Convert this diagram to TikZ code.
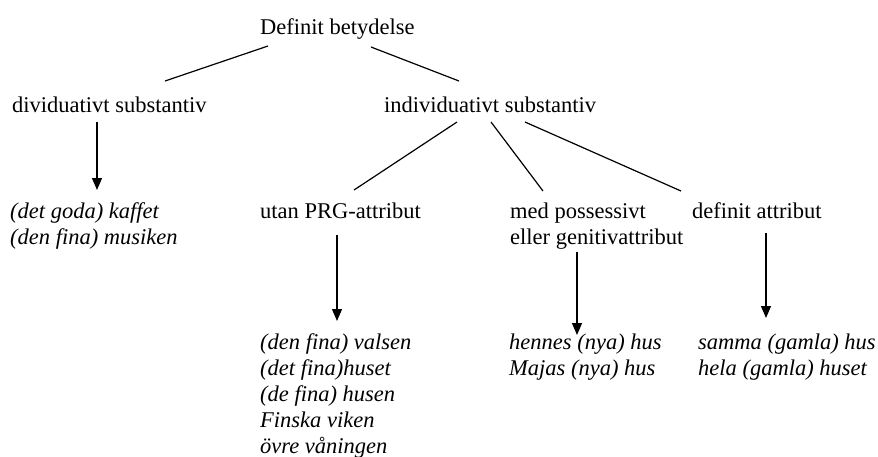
\documentclass[tikz,border=0pt]{standalone}
\usepackage{fontspec}
\setmainfont{Liberation Serif}
\usepackage{tikz}
\usetikzlibrary{arrows.meta}
\usetikzlibrary{positioning}

\tikzset{
  lbl/.style={anchor=base west, inner sep=0pt, font=\fontsize{22.5}{26}\selectfont},
  exlist/.style={lbl, align=left, font=\fontsize{22.5}{26}\selectfont\itshape},
  branch/.style={line width=1.2pt},
  pointer/.style={line width=1.2pt, -{Triangle[width=10pt,length=12pt]}}
}

\begin{document}
\begin{tikzpicture}[x=1pt, y=-1pt]
  \useasboundingbox (0,0) rectangle (878,456);

  % levels of the tree (multi-line nodes sit on their last line)
  \node[lbl] (top) at (260,34) {Definit betydelse};
  \node[lbl] (div) at (12,112) {dividuativt substantiv};
  \node[lbl] (ind) at (384,112) {individuativt substantiv};

  \node[lbl] (utan) at (260,218) {utan PRG-attribut};
  \node[lbl, align=left] (med) at (510,244) {med possessivt\\eller genitivattribut};
  \node[lbl] (defi) at (692,218) {definit attribut};

  % examples
  \node[exlist] (divex) at (10,244) {(det goda) kaffet\\(den fina) musiken};
  \node[exlist] (utanex) at (260,453) {(den fina) valsen\\(det fina)huset\\(de fina) husen\\Finska viken\\övre våningen};
  \node[exlist] (medex) at (509,375) {hennes (nya) hus\\Majas (nya) hus};
  \node[exlist] (defiex) at (698,375) {samma (gamla) hus\\hela (gamla) huset};

  % branches
  \draw[branch] ([shift={(8,12)}]top.base west) -- ([shift={(153,-31)}]div.base west);
  \draw[branch] ([shift={(111,13)}]top.base west) -- ([shift={(75,-31)}]ind.base west);
  \draw[branch] ([shift={(73,10)}]ind.base west) -- ([shift={(94,-28)}]utan.base west);
  \draw[branch] ([shift={(107,10)}]ind.base west) -- ([shift={(33,-53)}]med.base west);
  \draw[branch] ([shift={(141,10)}]ind.base west) -- ([shift={(-11,-27)}]defi.base west);

  % arrows down to the examples
  \draw[pointer] ([shift={(85,10)}]div.base west) -- ([shift={(87,-54)}]divex.base west);
  \draw[pointer] ([shift={(77,17)}]utan.base west) -- ([shift={(77,-132)}]utanex.base west);
  \draw[pointer] ([shift={(67,8)}]med.base west) -- ([shift={(68,-40)}]medex.base west);
  \draw[pointer] ([shift={(74,15)}]defi.base west) -- ([shift={(68,-57)}]defiex.base west);
\end{tikzpicture}
\end{document}
